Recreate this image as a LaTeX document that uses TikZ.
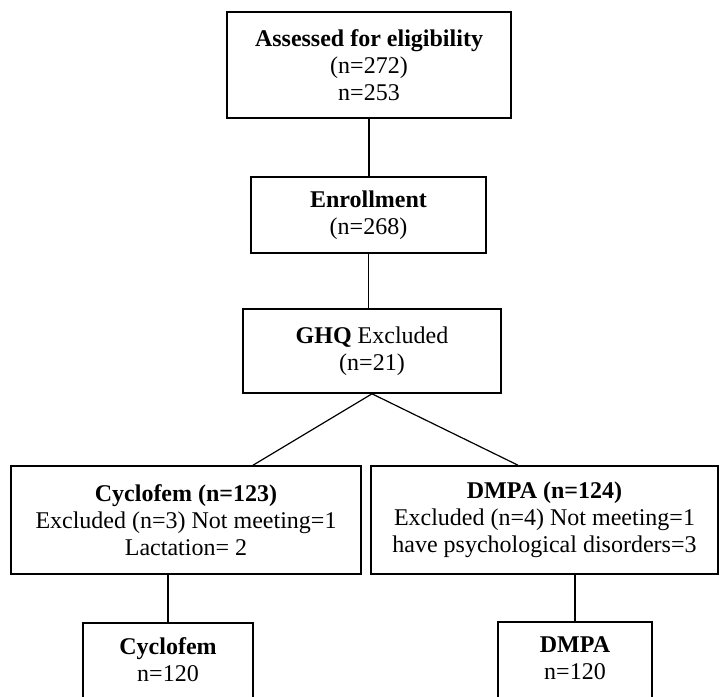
\documentclass[tikz,border=0pt]{standalone}
\usepackage{fontspec}
\setmainfont{Liberation Serif}
\usepackage{tikz}
\usetikzlibrary{positioning,calc}
\tikzstyle{box} = [draw,line width=0.8pt,rectangle,align=center,inner sep=0,font=\fontsize{12}{13.5}\selectfont]
\tikzstyle{open} = [box,anchor=north,inner ysep=7.5pt,text depth=24pt]
\tikzstyle{link} = [-,line width=0.6pt]

\begin{document}
\begin{tikzpicture}[x=0.5pt,y=-0.5pt]
  \useasboundingbox (0,0) rectangle (720,697);
  \clip (0,0) rectangle (720,697);
  \node[box,minimum width=142pt,minimum height=53pt] (assess) at (369,65)
    {\textbf{Assessed for eligibility}\\(n=272)\\n=253};
  \node[box,minimum width=117.5pt,minimum height=38pt] (enroll) at (368.5,215)
    {\textbf{Enrollment}\\(n=268)};
  \node[box,minimum width=129pt,minimum height=42pt] (ghq) at (372,351)
    {\textbf{GHQ} Excluded\\(n=21)};
  \node[box,minimum width=175pt,minimum height=54pt] (cyc) at (186,520)
    {\textbf{Cyclofem (n=123)}\\Excluded (n=3) Not meeting=1\\Lactation= 2};
  \node[box,minimum width=173.5pt,minimum height=54pt] (dmpa) at (544.5,520)
    {\textbf{DMPA (n=124)}\\Excluded (n=4) Not meeting=1\\have psychological disorders=3};
  \node[open,minimum width=85pt] (cycN) at (168,622) {\textbf{Cyclofem}\\n=120};
  \node[open,minimum width=77pt] (dmpaN) at (575,621) {\textbf{DMPA}\\n=120};
  % links
  \draw[link] (assess.south) -- (assess.south |- enroll.north);
  \draw[link] (enroll.south) -- (enroll.south |- ghq.north);
  \draw[link] (ghq.south) -- ($(cyc.north)+(67,0)$);
  \draw[link] (ghq.south) -- ($(dmpa.north)+(-26.5,0)$);
  \draw[link] (cycN.north |- cyc.south) -- (cycN.north);
  \draw[link] (dmpaN.north |- dmpa.south) -- (dmpaN.north);
\end{tikzpicture}
\end{document}
